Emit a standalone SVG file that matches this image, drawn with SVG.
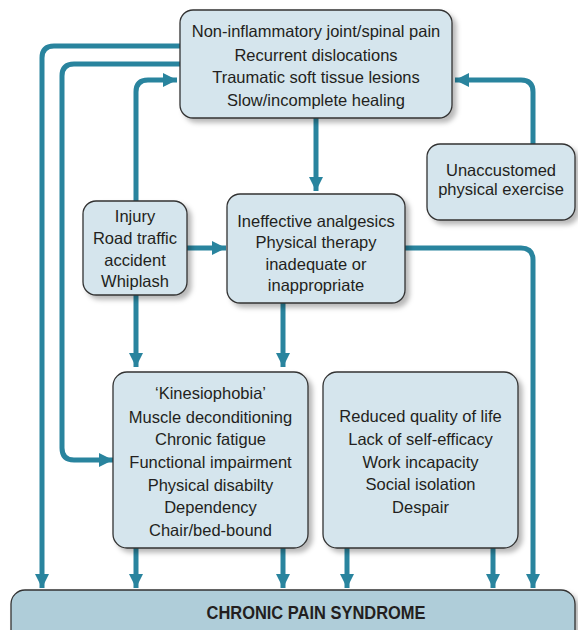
<svg xmlns="http://www.w3.org/2000/svg" width="578" height="630" viewBox="0 0 578 630">
  <style>
    .box { fill: #d5e5ed; stroke: #333333; stroke-width: 1.3; }
    .bar { fill: #afcdd9; stroke: #333333; stroke-width: 1.3; }
    .lbl { font-family: "Liberation Sans", Arial, sans-serif; font-size: 16.5px; fill: #231f20; text-anchor: middle; }
    .title { font-family: "Liberation Sans", Arial, sans-serif; font-size: 18px; font-weight: bold; fill: #231f20; text-anchor: middle; }
    .link { fill: none; stroke: #29849e; stroke-width: 5; stroke-linejoin: round; }
  </style>
  <defs>
    <filter id="shadow" x="-10%" y="-10%" width="130%" height="130%">
      <feDropShadow dx="4" dy="4" stdDeviation="2.5" flood-color="#000000" flood-opacity="0.28"/>
    </filter>
    <marker id="arrow" viewBox="0 0 10 10" refX="10" refY="5" markerUnits="userSpaceOnUse" markerWidth="14" markerHeight="14" orient="auto">
      <path d="M0,0 L10,5 L0,10 Z" fill="#29849e"/>
    </marker>
  </defs>

  <!-- connectors -->
  <g id="connectors">
    <path class="link" d="M180,46 H54 Q42,46 42,58 V588" marker-end="url(#arrow)"/>
    <path class="link" d="M180,64 H74 Q62,64 62,76 V448 Q62,460 74,460 H113" marker-end="url(#arrow)"/>
    <path class="link" d="M136,201 V92 Q136,80 148,80 H177" marker-end="url(#arrow)"/>
    <path class="link" d="M316,118 V191" marker-end="url(#arrow)"/>
    <path class="link" d="M533,144 V92 Q533,80 521,80 H455" marker-end="url(#arrow)"/>
    <path class="link" d="M187,248 H226" marker-end="url(#arrow)"/>
    <path class="link" d="M136,295 V367" marker-end="url(#arrow)"/>
    <path class="link" d="M283,303 V367" marker-end="url(#arrow)"/>
    <path class="link" d="M405,248 H521 Q533,248 533,260 V588" marker-end="url(#arrow)"/>
    <path class="link" d="M136,548 V588" marker-end="url(#arrow)"/>
    <path class="link" d="M283,548 V588" marker-end="url(#arrow)"/>
    <path class="link" d="M347,548 V588" marker-end="url(#arrow)"/>
    <path class="link" d="M493,548 V588" marker-end="url(#arrow)"/>
  </g>

  <!-- outcome bar -->
  <g id="chronic-pain-syndrome">
    <rect class="bar" x="11" y="590" width="564" height="60" rx="14" filter="url(#shadow)"/>
    <text class="title" x="316" y="618.5" textLength="219" lengthAdjust="spacingAndGlyphs">CHRONIC PAIN SYNDROME</text>
  </g>

  <g id="mechanical-causes">
    <rect class="box" x="180" y="10" width="272" height="108" rx="13" filter="url(#shadow)"/>
    <text class="lbl" x="316" y="37.3">Non-inflammatory joint/spinal pain</text>
    <text class="lbl" x="316" y="60.5">Recurrent dislocations</text>
    <text class="lbl" x="316" y="83.3">Traumatic soft tissue lesions</text>
    <text class="lbl" x="316" y="106">Slow/incomplete healing</text>
  </g>

  <g id="unaccustomed-exercise">
    <rect class="box" x="427" y="144" width="148" height="76" rx="13" filter="url(#shadow)"/>
    <text class="lbl" x="501" y="175.5">Unaccustomed</text>
    <text class="lbl" x="501" y="194.5">physical exercise</text>
  </g>

  <g id="injury">
    <rect class="box" x="83" y="201" width="104" height="94" rx="13" filter="url(#shadow)"/>
    <text class="lbl" x="135" y="222.3">Injury</text>
    <text class="lbl" x="135" y="244.3">Road traffic</text>
    <text class="lbl" x="135" y="265.5">accident</text>
    <text class="lbl" x="135" y="286.7">Whiplash</text>
  </g>

  <g id="ineffective-treatment">
    <rect class="box" x="227" y="194" width="178" height="109" rx="13" filter="url(#shadow)"/>
    <text class="lbl" x="316" y="226.7">Ineffective analgesics</text>
    <text class="lbl" x="316" y="248.3">Physical therapy</text>
    <text class="lbl" x="316" y="270">inadequate or</text>
    <text class="lbl" x="316" y="291">inappropriate</text>
  </g>

  <g id="physical-consequences">
    <rect class="box" x="113" y="372" width="195" height="176" rx="14" filter="url(#shadow)"/>
    <text class="lbl" x="210.5" y="399.3">‘Kinesiophobia’</text>
    <text class="lbl" x="210.5" y="422.5">Muscle deconditioning</text>
    <text class="lbl" x="210.5" y="445">Chronic fatigue</text>
    <text class="lbl" x="210.5" y="468.3">Functional impairment</text>
    <text class="lbl" x="210.5" y="490.7">Physical disabilty</text>
    <text class="lbl" x="210.5" y="513.3">Dependency</text>
    <text class="lbl" x="210.5" y="536">Chair/bed-bound</text>
  </g>

  <g id="social-consequences">
    <rect class="box" x="323" y="372" width="195" height="176" rx="14" filter="url(#shadow)"/>
    <text class="lbl" x="420.5" y="422.3">Reduced quality of life</text>
    <text class="lbl" x="420.5" y="445">Lack of self-efficacy</text>
    <text class="lbl" x="420.5" y="467.7">Work incapacity</text>
    <text class="lbl" x="420.5" y="490">Social isolation</text>
    <text class="lbl" x="420.5" y="512.7">Despair</text>
  </g>
</svg>
